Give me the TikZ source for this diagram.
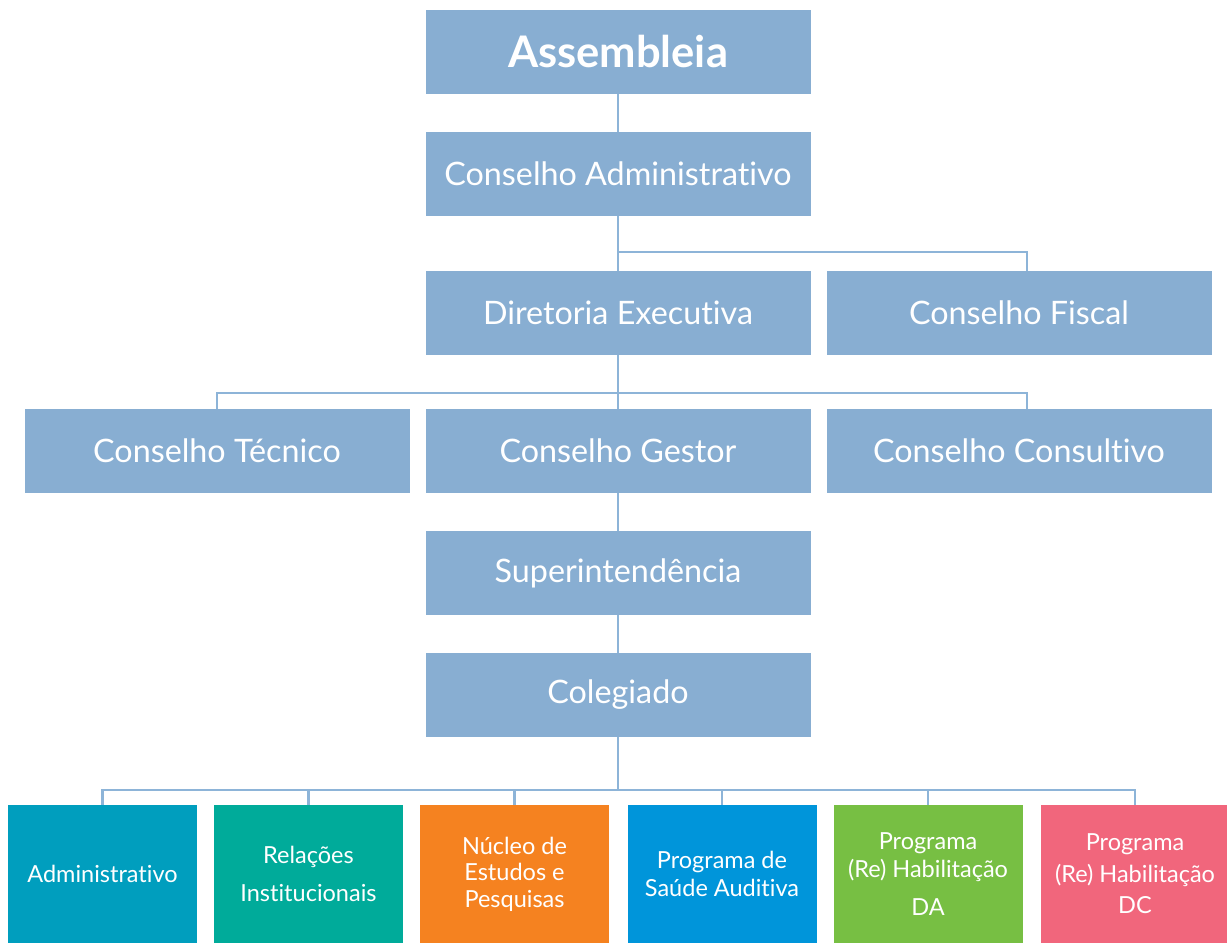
\documentclass[tikz,border=0pt]{standalone}
\usepackage{fontspec}
\setmainfont{Lato}[Ligatures=NoCommon]
\definecolor{boxblue}{RGB}{136, 174, 210}
\definecolor{linkblue}{RGB}{141, 180, 216}
\definecolor{admteal}{RGB}{0, 158, 190}
\definecolor{relgreen}{RGB}{0, 171, 154}
\definecolor{nucorange}{RGB}{245, 130, 32}
\definecolor{saublue}{RGB}{0, 149, 218}
\definecolor{dagreen}{RGB}{119, 191, 67}
\definecolor{dcpink}{RGB}{241, 102, 124}
\usetikzlibrary{positioning, calc}
\tikzset{
  orgbox/.style={fill=boxblue, text=white, minimum width=385pt, minimum height=84pt,
    inner sep=0pt, outer sep=0pt, align=center, font=\fontsize{32.3}{36}\selectfont},
  unitbox/.style={text=white, minimum width=189pt, minimum height=138pt,
    inner sep=0pt, outer sep=0pt, align=center, font=\fontsize{23.5}{27.5}\selectfont},
  link/.style={draw=linkblue, line width=2.5pt}
}

\begin{document}
\begin{tikzpicture}[x=1pt, y=1pt]
  \useasboundingbox (0,0) rectangle (1227,943);

  % Top of the chart
  \node[orgbox, font=\fontsize{43.5}{48}\selectfont\bfseries] (assembleia) at (618, 891) {Assembleia};
  \node[orgbox] (consadm) at (618, 769) {Conselho Administrativo};

  % Executive level
  \node[orgbox] (diretoria) at (618, 630) {Diretoria Executiva};
  \node[orgbox] (fiscal) at (1019, 630) {Conselho Fiscal};

  % Councils
  \node[orgbox] (tecnico) at (217, 492) {Conselho Técnico};
  \node[orgbox] (gestor) at (618, 492) {Conselho Gestor};
  \node[orgbox] (consultivo) at (1019, 492) {Conselho Consultivo};

  \node[orgbox] (superint) at (618, 370) {Superintendência};
  \node[orgbox] (colegiado) at (618, 248) {Colegiado};

  % Units
  \node[unitbox, fill=admteal] (adm) at (102.5, 69) {Administrativo};
  \node[unitbox, fill=relgreen] (rel) at (308.5, 69) {Relações\\[10pt]Institucionais};
  \node[unitbox, fill=nucorange] (nuc) at (514.5, 69) {Núcleo de\\[-1pt]Estudos e\\[-1pt]Pesquisas};
  \node[unitbox, fill=saublue] (sau) at (722, 69) {Programa de\\Saúde Auditiva};
  \node[unitbox, fill=dagreen] (da) at (928, 69) {Programa\\[1pt](Re) Habilitação\\[10pt]DA};
  \node[unitbox, fill=dcpink] (dc) at (1135, 69) {Programa\\[4pt](Re) Habilitação\\[4pt]DC};

  % Connectors
  \coordinate (busA) at (618, 691);
  \coordinate (busB) at (618, 550);
  \coordinate (busC) at (618, 153);

  \draw[link] (assembleia) -- (consadm);
  \draw[link] (consadm) -- (diretoria);
  \draw[link] (busA) -| ($(fiscal.north)+(8,0)$);

  \draw[link] (diretoria) -- (gestor);
  \draw[link] (tecnico.north) |- (busB) -| ($(consultivo.north)+(8,0)$);

  \draw[link] (gestor) -- (superint);
  \draw[link] (superint) -- (colegiado);

  \draw[link] (colegiado.south) -- (busC);
  \draw[link] (adm.north) |- (busC) -| (dc.north);
  \foreach \n in {rel, nuc, sau, da}
    \draw[link] (\n.north) -- (\n.north |- busC);
\end{tikzpicture}
\end{document}
